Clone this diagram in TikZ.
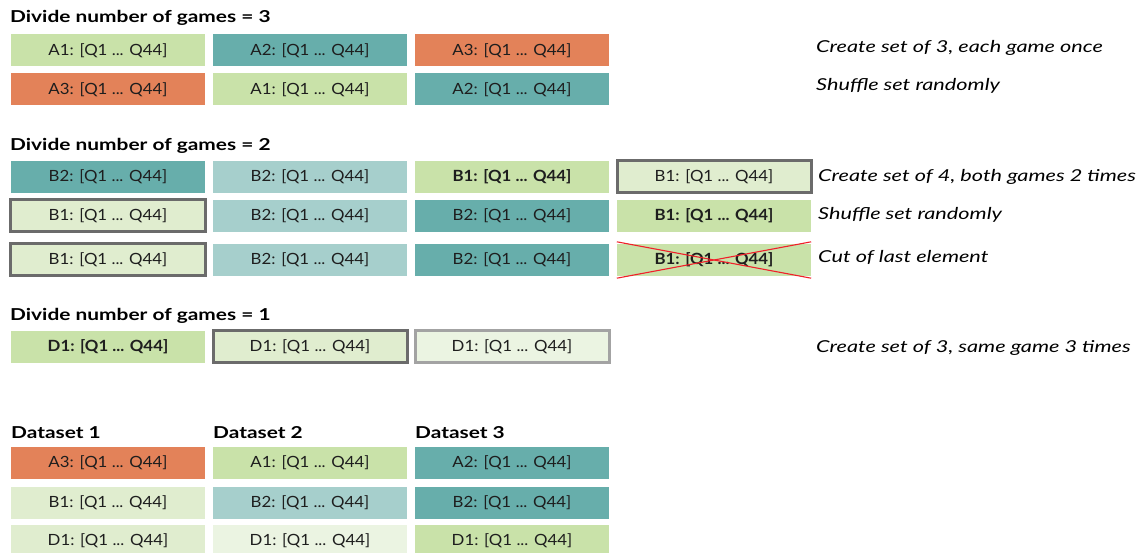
\documentclass[tikz,border=0pt]{standalone}
\usepackage{fontspec}
\setmainfont{Lato}
\newfontfamily\cellfont{Lato}[FakeStretch=1.09]
\newfontfamily\titlefont{Lato}[FakeStretch=1.27]
\newfontfamily\notefont{Lato}[FakeStretch=1.32]
\usetikzlibrary{positioning}
\definecolor{cgreen}{HTML}{C9E2A9}
\definecolor{cteal}{HTML}{67AEAB}
\definecolor{corange}{HTML}{E38259}
\definecolor{clteal}{HTML}{A6CFCC}
\definecolor{cpale}{HTML}{E0EDCF}
\definecolor{cpalest}{HTML}{EBF4E2}
\definecolor{cframe}{HTML}{6B6B6B}
\definecolor{cframelight}{HTML}{A3A3A3}
\definecolor{ctext}{HTML}{1E1E1E}
\definecolor{ccross}{HTML}{F0202A}
\tikzset{
  every picture/.style={x=1bp, y=-1bp, font=\cellfont\fontsize{15.5}{18}\selectfont},
  cell/.style={fill=#1, text=ctext, minimum width=194bp, minimum height=32bp, inner sep=0pt},
  tgreen/.style={cell=cgreen},
  tteal/.style={cell=cteal},
  torange/.style={cell=corange},
  tlteal/.style={cell=clteal},
  tpale/.style={cell=cpale},
  tpalest/.style={cell=cpalest},
  tgreenbold/.style={cell=cgreen, font=\cellfont\fontsize{15.5}{18}\selectfont\bfseries},
  tpaleline/.style={cell=cpale, draw=cframe, line width=3bp},
  tpalestline/.style={cell=cpalest, draw=cframelight, line width=3bp},
  title/.style={anchor=west, inner sep=0pt, font=\titlefont\fontsize{16.5}{19}\selectfont\bfseries},
  note/.style={anchor=west, inner sep=0pt, font=\notefont\fontsize{16.5}{19}\selectfont\itshape},
  cross/.style={draw=ccross, line width=1.1bp},
}
\newcommand{\gameq}[1]{#1: [Q1 ... Q44]}

\begin{document}
\begin{tikzpicture}
  \useasboundingbox (0,0) rectangle (1137,553);
  % three games
  \node[title] (t3) at (10,18) {Divide number of games = 3};
  \foreach \g/\s [count=\i] in {A1/tgreen, A2/tteal, A3/torange}
    \node[\s] (a1-\i) at (108+202*\i-202,50.5) {\gameq{\g}};
  \foreach \g/\s [count=\i] in {A3/torange, A1/tgreen, A2/tteal}
    \node[\s] (a2-\i) at (108+202*\i-202,89.5) {\gameq{\g}};
  \node[note] (n31) at (816,48) {Create set of 3, each game once};
  \node[note] (n32) at (816,86) {Shuffle set randomly};
  % two games
  \node[title] (t2) at (10,146) {Divide number of games = 2};
  \foreach \g/\s [count=\i] in {B2/tteal, B2/tlteal, B1/tgreenbold, B1/tpaleline}
    \node[\s] (b1-\i) at (108+202*\i-202,177) {\gameq{\g}};
  \foreach \g/\s [count=\i] in {B1/tpaleline, B2/tlteal, B2/tteal, B1/tgreenbold}
    \node[\s] (b2-\i) at (108+202*\i-202,216) {\gameq{\g}};
  \foreach \g/\s [count=\i] in {B1/tpaleline, B2/tlteal, B2/tteal, B1/tgreenbold}
    \node[\s] (b3-\i) at (108+202*\i-202,260) {\gameq{\g}};
  \draw[cross] ([yshift=-2bp]b3-4.south west) -- ([yshift=2bp]b3-4.north east);
  \draw[cross] ([yshift=2bp]b3-4.north west) -- ([yshift=-2bp]b3-4.south east);
  \node[note] (n21) at (818,177) {Create set of 4, both games 2 times};
  \node[note] (n22) at (818,215) {Shuffle set randomly};
  \node[note] (n23) at (818,257) {Cut of last element};
  % one game
  \node[title] (t1) at (10,316) {Divide number of games = 1};
  \foreach \g/\s [count=\i] in {D1/tgreenbold, D1/tpaleline, D1/tpalestline}
    \node[\s] (d-\i) at (108+202*\i-202,347) {\gameq{\g}};
  \node[note] (n11) at (816,348) {Create set of 3, same game 3 times};
  % resulting datasets
  \foreach \i in {1,2,3}
    \node[title] (ds\i) at (11+202*\i-202,433) {Dataset \i};
  \foreach \a/\sa/\b/\sb/\d/\sd [count=\i] in {A3/torange/B1/tpale/D1/tpale,
      A1/tgreen/B2/tlteal/D1/tpalest, A2/tteal/B2/tteal/D1/tgreen} {
    \node[\sa] (s\i-a) at (108+202*\i-202,463) {\gameq{\a}};
    \node[\sb] (s\i-b) at (108+202*\i-202,503) {\gameq{\b}};
    \node[\sd] (s\i-d) at (108+202*\i-202,541) {\gameq{\d}};
  }
\end{tikzpicture}
\end{document}
